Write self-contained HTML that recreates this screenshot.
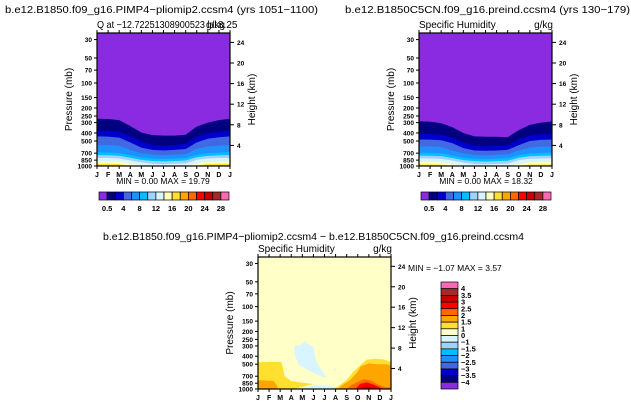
<!DOCTYPE html>
<html><head><meta charset="utf-8">
<style>
body{margin:0;background:#fff;}
svg{display:block;font-family:"Liberation Sans",sans-serif;}
</style></head>
<body>
<svg id="chart" width="631" height="406" viewBox="0 0 631 406" xmlns="http://www.w3.org/2000/svg">
<text x="5" y="13" font-size="10.5" textLength="313" lengthAdjust="spacingAndGlyphs">b.e12.B1850.f09_g16.PIMP4−pliomip2.ccsm4 (yrs 1051−1100)</text>
<text x="97" y="28" font-size="10" textLength="120" lengthAdjust="spacingAndGlyphs">Q  at  −12.72251308900523 lat</text>
<text x="206" y="28" font-size="10">g/kg</text>
<text x="218" y="28" font-size="10">8.25</text>
<text x="163" y="184" font-size="8.5" text-anchor="middle">MIN =    0.00 MAX =   19.79</text>
<text x="345" y="13" font-size="10.5" textLength="285" lengthAdjust="spacingAndGlyphs">b.e12.B1850C5CN.f09_g16.preind.ccsm4 (yrs 130−179)</text>
<text x="419" y="28" font-size="10">Specific Humidity</text>
<text x="553" y="28" font-size="10" text-anchor="end">g/kg</text>
<text x="486" y="184" font-size="8.5" text-anchor="middle">MIN =    0.00 MAX =   18.32</text>
<text x="103" y="240" font-size="10.5" textLength="421" lengthAdjust="spacingAndGlyphs">b.e12.B1850.f09_g16.PIMP4−pliomip2.ccsm4  −  b.e12.B1850C5CN.f09_g16.preind.ccsm4</text>
<text x="258" y="252" font-size="10">Specific Humidity</text>
<text x="392" y="252" font-size="10" text-anchor="end">g/kg</text>
<text x="408" y="271" font-size="8.5">MIN =  −1.07 MAX =   3.57</text>
</svg>
<script>
const months = ["J","F","M","A","M","J","J","A","S","O","N","D","J"];
const pTicks = [30,50,70,100,150,200,250,300,400,500,700,850,1000];
const hTicks = [24,20,16,12,8,4];
const absLevels = [0.5,2,4,6,8,10,12,14,16,18,20,22,24,26,28];
const absColors = ["#8a2be2","#000080","#0000cd","#4169e1","#1e90ff","#00bfff","#a0d2ff","#d8f4ff","#ffffc0","#ffdf30","#ffa500","#ff6a00","#ff0000","#c80000","#a52a2a","#ff69b4"];
const absLabels = ["0.5","4","8","12","16","20","24","28"];
const diffLevels = [-4,-3.5,-3,-2.5,-2,-1.5,-1,0,1,1.5,2,2.5,3,3.5,4];
const diffColors = ["#8a2be2","#000080","#0000cd","#4169e1","#1e90ff","#00bfff","#a0d2ff","#d8f4ff","#ffffc8","#ffdf30","#ffa500","#ff6a00","#ff0000","#c80000","#a52a2a","#ff69b4"];
const diffLabels = ["4","3.5","3","2.5","2","1.5","1","0","−1","−1.5","−2","−2.5","−3","−3.5","−4"];
// boundary pressure (mb) per month for each level, left model
const leftBounds = [
 [270,272,280,330,395,425,430,430,420,335,300,280,270],
 [375,378,385,440,505,560,570,560,540,445,400,388,375],
 [440,442,455,520,600,640,650,640,625,520,470,450,440],
 [560,560,570,640,700,730,740,730,720,620,580,570,560],
 [680,685,695,740,790,810,820,810,800,730,700,690,680],
 [740,742,752,795,845,870,880,870,860,785,755,745,740],
 [800,800,812,855,905,940,950,940,930,845,812,802,800],
 [880,880,890,930,980,1000,1000,1000,1000,930,890,882,880],
 [940,940,950,985,1000,1000,1000,1000,1000,985,945,940,940],
 [975,975,982,1000,1000,1000,1000,1000,1000,1000,980,975,975],
 [992,992,996,1000,1000,1000,1000,1000,1000,1000,995,992,992]
];
const rightBounds = [
 [290,292,305,340,400,440,445,445,450,370,320,300,290],
 [410,412,420,455,520,575,580,575,560,480,430,415,410],
 [480,482,490,530,610,650,655,650,640,560,500,485,480],
 [580,582,590,650,705,735,745,735,725,650,600,585,580],
 [690,692,700,745,795,815,825,815,805,740,705,695,690],
 [750,752,760,800,850,875,885,875,865,795,760,752,750],
 [810,812,820,860,910,945,955,945,935,850,820,812,810],
 [890,890,900,940,990,1000,1000,1000,1000,945,900,892,890],
 [955,955,962,995,1000,1000,1000,1000,1000,995,960,955,955],
 [985,985,990,1000,1000,1000,1000,1000,1000,1000,990,985,985]
];
// difference-plot regions: colour index, month positions, pressures (mb)
const diffRegionColor = [9,10,7,7,9,10,11,12,13,7];
const diffRegionMonth = [
 [0,0,1,2.1,2.2,2.4,3,4.2,5,3.3],
 [0,0,1.4,1.7,1.8],
 [3.3,3.7,4.2,5.0,5.2,5.6,6.2,5.8,4.5,3.7,3.3],
 [3.3,4,5,6,7,7.3],
 [6.8,7.2,8,8.6,9.2,9.8,10.5,11.3,12,12],
 [7.2,7.6,8.3,8.9,9.3,10,10.8,11.6,12,12,10],
 [8,8.4,9,9.6,10.2,10.8,11.5,12,12],
 [8.8,9.2,9.8,10.4,11,11.5],
 [9.2,9.6,10.2,10.8],
 [6.8,7.0,7.1,6.9]
];
const diffRegionP = [
 [1000,475,468,470,520,700,800,845,870,1000],
 [1000,780,800,900,1000],
 [292,300,269,309,445,556,736,715,588,512,387],
 [1000,950,900,900,950,1000],
 [1000,930,780,620,520,440,430,435,470,1000],
 [1000,900,780,640,530,490,500,500,520,1000,1000],
 [1000,900,820,760,790,880,950,960,1000],
 [1000,870,830,880,960,1000],
 [1000,930,940,1000],
 [580,570,600,610]
];

const svg = document.getElementById('chart');
const NS = "http://www.w3.org/2000/svg";
const pTop = 25;
function mk(tag, attrs, parent){const e=document.createElementNS(NS,tag);for(const k in attrs)e.setAttribute(k,attrs[k]);(parent||svg).appendChild(e);return e;}
function axes(L,R,T,B){
  const xs = m => L + (R-L)*m/12;
  const ys = p => B - (B-T)*Math.log(1000/p)/Math.log(1000/pTop);
  return {xs,ys};
}
function frame(L,R,T,B,prefix,ax){
  const g = mk('g',{});
  
  
  mk('rect',{x:L,y:T,width:R-L,height:B-T,fill:'none',stroke:'#000','stroke-width':1.2},g);
  months.forEach((m,i)=>{
    const x=ax.xs(i);
    mk('line',{x1:x,x2:x,y1:B,y2:B+3,stroke:'#000'},g);
    mk('line',{x1:x,x2:x,y1:T,y2:T-3,stroke:'#000'},g);
    const t=mk('text',{x:x,y:B+11,'font-size':7,'font-weight':'bold','text-anchor':'middle'},g);
    
    
    t.textContent=m;
  });
  pTicks.forEach(p=>{
    const y=ax.ys(p);
    mk('line',{x1:L-3,x2:L,y1:y,y2:y,stroke:'#000'},g);
    const t=mk('text',{x:L-5,y:y+2.5,'font-size':6.5,'font-weight':'bold','text-anchor':'end'},g);
    
    
    t.textContent=p;
  });
  hTicks.forEach(h=>{
    const p=1000*Math.exp(-h/7.0);
    const y=ax.ys(p);
    mk('line',{x1:R,x2:R+4,y1:y,y2:y,stroke:'#000'},g);
    const t=mk('text',{x:R+7,y:y+2.5,'font-size':6.5,'font-weight':'bold'},g);
    
    
    t.textContent=h;
  });
  const yl=mk('text',{x:0,y:0,'font-size':10,'text-anchor':'middle',transform:`translate(${L-25},${(T+B)/2}) rotate(-90)`},g);
  
  
  yl.textContent='Pressure (mb)';
  const hl=mk('text',{x:0,y:0,'font-size':10,'text-anchor':'middle',transform:`translate(${R+25},${(T+B)/2}) rotate(-90)`},g);
  
  
  hl.textContent='Height (km)';
}
function absPanel(L,R,T,B,bounds,prefix){
  const ax=axes(L,R,T,B);
  const bg=mk('rect',{x:L,y:T,width:R-L,height:B-T,fill:absColors[0]});
  
  
  bounds.forEach((arr,li)=>{
    let d='M'+ax.xs(0)+','+ax.ys(1000);
    arr.forEach((p,i)=>{d+=' L'+ax.xs(i)+','+ax.ys(p);});
    d+=' L'+ax.xs(12)+','+ax.ys(1000)+'Z';
    const path=mk('path',{d:d,fill:absColors[li+1]});
    
    
  });
  frame(L,R,T,B,prefix,ax);
}
function hBar(x0,x1,y,prefix){
  const n=absColors.length, w=(x1-x0)/n;
  const g=mk('g',{});
  
  
  absColors.forEach((c,i)=>{
    const r=mk('rect',{x:x0+i*w,y:y,width:w,height:8,fill:c,stroke:'#000','stroke-width':0.7},g);
    
    
  });
  absLabels.forEach((lab,i)=>{
    const t=mk('text',{x:x0+(1+2*i)*w,y:y+19,'font-size':7.5,'font-weight':'bold','text-anchor':'middle'},g);
    
    
    t.textContent=lab;
  });
}
absPanel(97,230,33,166,leftBounds,'top-left');
absPanel(419,552,33,166,rightBounds,'top-right');
hBar(99,229,192,'top-left');
hBar(421,551,192,'top-right');

// difference panel
(function(){
  const L=258,R=391,T=257,B=389;
  const ax=axes(L,R,T,B);
  const bg=mk('rect',{x:L,y:T,width:R-L,height:B-T,fill:diffColors[8]});
  
  
  diffRegionMonth.forEach((ms,k)=>{
    const pts=ms.map((m,i)=>ax.xs(m)+','+ax.ys(diffRegionP[k][i])).join(' ');
    const poly=mk('polygon',{points:pts,fill:diffColors[diffRegionColor[k]]});
    
    
  });
  frame(L,R,T,B,'bottom',ax);
  const x0=441,x1=458,y0=282,y1=389,n=diffColors.length,h=(y1-y0)/n;
  const g=mk('g',{});
  
  
  diffColors.slice().reverse().forEach((c,i)=>{
    const r=mk('rect',{x:x0,y:y0+i*h,width:x1-x0,height:h,fill:c,stroke:'#000','stroke-width':0.7},g);
    
    
  });
  diffLabels.forEach((lab,i)=>{
    const t=mk('text',{x:x1+3,y:y0+(i+1)*h+2.5,'font-size':7.5,'font-weight':'bold'},g);
    
    
    t.textContent=lab;
  });
})();
</script>
</body></html>
